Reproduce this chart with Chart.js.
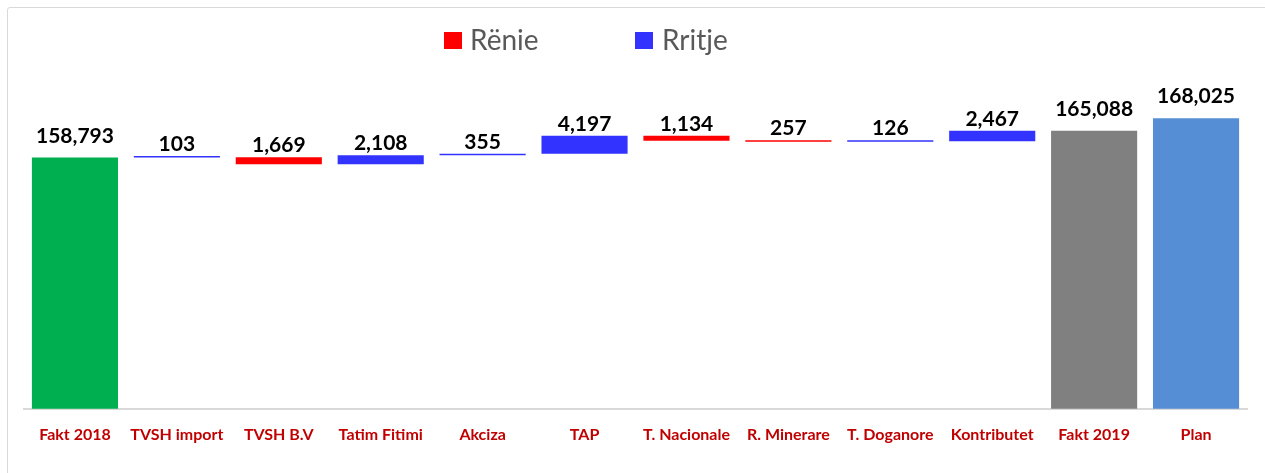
<!DOCTYPE html>
<html><head><meta charset="utf-8">
<script src="https://cdn.jsdelivr.net/npm/chart.js@4.4.0/dist/chart.umd.min.js"></script>
<style>
html,body{margin:0;padding:0;background:#fff;overflow:hidden}
#frame{position:absolute;left:7px;top:7px;width:1300px;height:520px;border:1px solid #d9d9d9;border-radius:3px}
#wrap{position:absolute;left:0;top:0;width:1265px;height:473px}
</style></head><body>
<div id="frame"></div>
<div id="wrap"><canvas id="c"></canvas></div>
<script>
// waterfall data
const categories = ['Fakt 2018','TVSH import','TVSH B.V','Tatim Fitimi','Akciza','TAP','T. Nacionale','R. Minerare','T. Doganore','Kontributet','Fakt 2019','Plan'];
const startValue = 158793;
const changes = [103, -1669, 2108, 355, 4197, -1134, -257, 126, 2467];
const endValue = 165088;
const planValue = 168025;
const totalColors = ['#00B050','#808080','#558ED5'];

const n = categories.length;
const totals = new Array(n).fill(null);
totals[0] = startValue; totals[n-2] = endValue; totals[n-1] = planValue;
const totalBg = new Array(n).fill('#808080');
totalBg[0] = totalColors[0]; totalBg[n-2] = totalColors[1]; totalBg[n-1] = totalColors[2];

const down = new Array(n).fill(null), up = new Array(n).fill(null);
let level = startValue;
changes.forEach((c,i)=>{
  const next = level + c;
  if(c < 0) down[i+1] = [next, level]; else up[i+1] = [level, next];
  level = next;
});

const fmt = v => Math.round(v).toLocaleString('en-US');

const labelPlugin = {
  id:'barLabels',
  afterDatasetsDraw(chart){
    const ctx = chart.ctx;
    ctx.save();
    ctx.font = 'bold 21px Lato';
    ctx.fillStyle = '#000';
    ctx.textAlign = 'center';
    ctx.textBaseline = 'alphabetic';
    chart.data.datasets.forEach((ds,di)=>{
      const meta = chart.getDatasetMeta(di);
      meta.data.forEach((el,i)=>{
        const v = ds.data[i];
        if(v == null) return;
        const top = Math.min(el.y, el.base);
        const isTotal = !Array.isArray(v);
        const txt = isTotal ? fmt(v) : fmt(Math.abs(v[1]-v[0]));
        ctx.fillText(txt, el.x, top - (isTotal ? 15 : 5));
      });
    });
    ctx.restore();
  }
};

const legendPlugin = {
  id:'sideLegend',
  afterDraw(chart){
    const ctx = chart.ctx;
    ctx.save();
    ctx.font = '28px Lato';
    ctx.textBaseline = 'alphabetic';
    ctx.fillStyle = '#FF0000'; ctx.fillRect(444, 32, 18, 17);
    ctx.fillStyle = '#3333FF'; ctx.fillRect(635, 32, 18, 17);
    ctx.fillStyle = '#595959';
    ctx.fillText('Rënie', 470, 50);
    ctx.fillText('Rritje', 662, 50);
    ctx.restore();
  }
};

new Chart(document.getElementById('c'), {
  type:'bar',
  data:{
    labels: categories,
    datasets:[
      {label:'Total', data: totals, backgroundColor: totalBg, grouped:false},
      {label:'Rënie', data: down, backgroundColor:'#FF0000', grouped:false},
      {label:'Rritje', data: up, backgroundColor:'#3333FF', grouped:false}
    ]
  },
  options:{
    responsive:true, maintainAspectRatio:false, animation:false,
    layout:{padding:{left:24, right:18, top:67, bottom:21}},
    datasets:{bar:{barPercentage:0.845, categoryPercentage:1, minBarLength:1.5}},
    plugins:{legend:{display:false}, tooltip:{enabled:false}},
    scales:{
      x:{
        grid:{display:false},
        border:{color:'#d9d9d9', width:2},
        ticks:{color:'#C00000', font:{family:'Lato', size:16, weight:'bold'}, padding:8, maxRotation:0, autoSkip:false}
      },
      y:{display:false, min:100000, max:180000}
    }
  },
  plugins:[labelPlugin, legendPlugin]
});
</script>
</body></html>
